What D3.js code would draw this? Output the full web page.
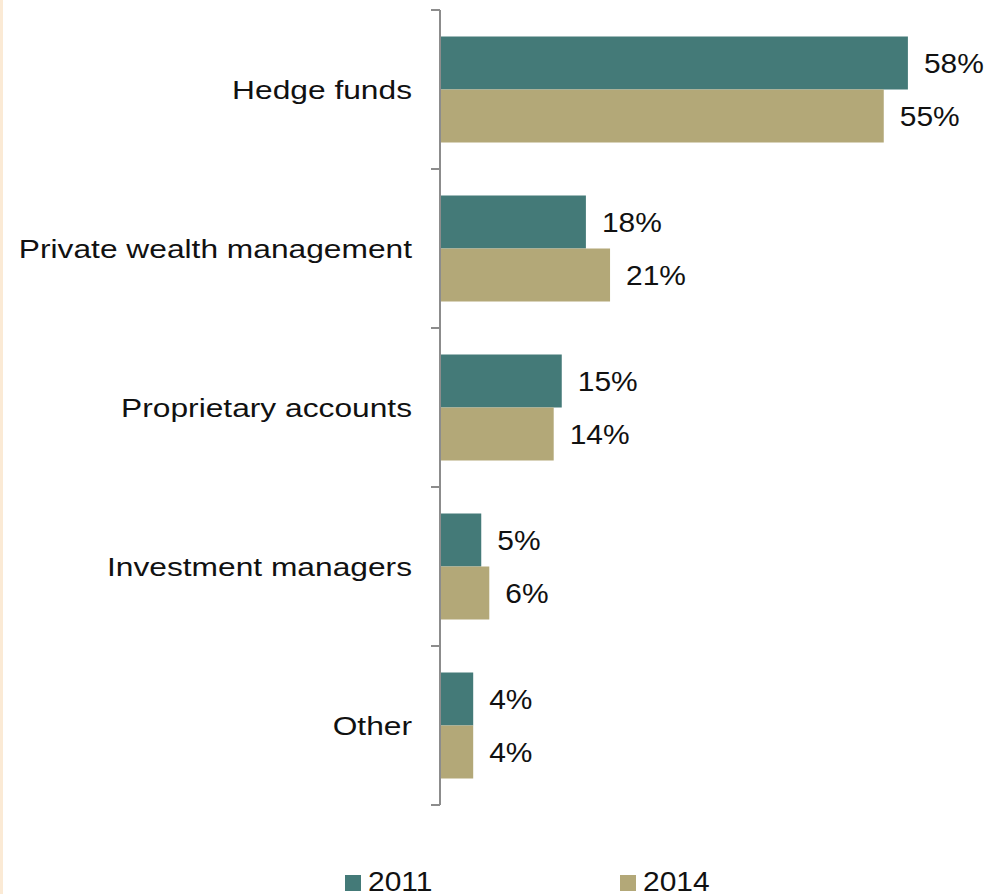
<!DOCTYPE html>
<html>
<head>
<meta charset="utf-8">
<script src="https://cdn.jsdelivr.net/npm/d3@7"></script>
<style>
  html, body { margin: 0; padding: 0; background: #fff; }
  svg { display: block; font-family: "Liberation Sans", Arial, sans-serif; }
</style>
</head>
<body>
<div id="chart"></div>
<script>
// categories and values (share in %)
const categories = ["Hedge funds", "Private wealth management", "Proprietary accounts", "Investment managers", "Other"];
const seriesNames = ["2011", "2014"];
const values2011 = [58, 18, 15, 5, 4];
const values2014 = [55, 21, 14, 6, 4];

const CFG = {
  w: 992, h: 894,
  axisX: 440, top: 10, bottom: 805,
  colors: { "2011": "#447a78", "2014": "#b3a878" },
  axisColor: "#8c8c8c",
  txt: "#111"
};

const rows = categories.map((c, i) => ({ cat: c, "2011": values2011[i], "2014": values2014[i] }));

const svg = d3.select("#chart").append("svg").attr("width", CFG.w).attr("height", CFG.h);

// beige strip at the left edge
svg.append("rect").attr("x", 0).attr("y", 0).attr("width", 3).attr("height", CFG.h).attr("fill", "#fbead5");

const x = d3.scaleLinear().domain([0, 100]).range([CFG.axisX + 1, CFG.axisX + 1 + 805]);
const y = d3.scaleBand().domain(categories).range([CFG.top, CFG.bottom])
  .paddingInner(1/3).paddingOuter(1/6);
const ySub = d3.scaleBand().domain(seriesNames).range([0, y.bandwidth()]);

// bars
const groups = svg.append("g").selectAll("g").data(rows).join("g")
  .attr("transform", d => `translate(0,${y(d.cat)})`);

groups.selectAll("rect").data(d => seriesNames.map(s => ({ s, v: d[s] }))).join("rect")
  .attr("x", x(0))
  .attr("y", d => ySub(d.s))
  .attr("width", d => x(d.v) - x(0))
  .attr("height", ySub.bandwidth())
  .attr("fill", d => CFG.colors[d.s]);

// value labels
groups.selectAll("text").data(d => seriesNames.map(s => ({ s, v: d[s] }))).join("text")
  .attr("transform", d => `translate(${x(d.v) + 16},${ySub(d.s) + ySub.bandwidth() / 2 + 10}) scale(1.07,1)`)
  .attr("font-size", 28)
  .attr("fill", CFG.txt)
  .text(d => d.v + "%");

// axis line with ticks at band boundaries
const axis = svg.append("g");
axis.append("line")
  .attr("x1", CFG.axisX).attr("x2", CFG.axisX)
  .attr("y1", CFG.top).attr("y2", CFG.bottom)
  .attr("stroke", CFG.axisColor).attr("stroke-width", 2);
const bounds = d3.range(categories.length + 1).map(i => CFG.top + i * y.step());
axis.selectAll("line.tick").data(bounds).join("line").attr("class", "tick")
  .attr("x1", CFG.axisX - 9).attr("x2", CFG.axisX)
  .attr("y1", d => d).attr("y2", d => d)
  .attr("stroke", CFG.axisColor).attr("stroke-width", 2);

// category labels
svg.append("g").selectAll("text").data(categories).join("text")
  .attr("transform", d => `translate(412,${y(d) + y.bandwidth() / 2 + 9.5}) scale(1.22,1)`)
  .attr("text-anchor", "end")
  .attr("font-size", 26)
  .attr("fill", CFG.txt)
  .text(d => d);

// legend
const legendX = { "2011": 345, "2014": 620 };
const leg = svg.append("g").selectAll("g").data(seriesNames).join("g")
  .attr("transform", d => `translate(${legendX[d]},875)`);
leg.append("rect").attr("width", 16).attr("height", 16).attr("fill", d => CFG.colors[d]);
leg.append("text")
  .attr("transform", "translate(23,16) scale(1.07,1)")
  .attr("font-size", 28)
  .attr("fill", CFG.txt)
  .text(d => d);
</script>
</body>
</html>
